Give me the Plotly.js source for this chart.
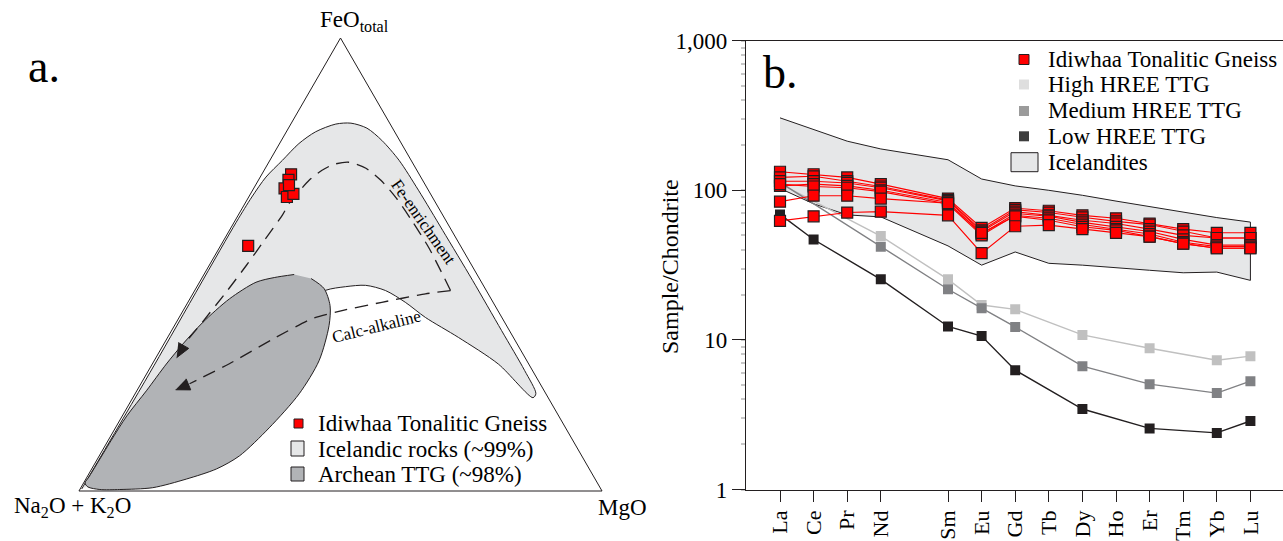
<!DOCTYPE html>
<html><head><meta charset="utf-8">
<script src="https://cdn.plot.ly/plotly-3.0.1.min.js"></script>
<style>html,body{margin:0;padding:0;background:#fff;} #chart{width:1283px;height:541px;}</style>
</head><body><div id="chart"></div>
<script>
// ---------------- Panel a : AFM ternary (wt% normalised) ----------------
const idiwhaaFeO = [69.9, 68.7, 66.8, 64.9, 65.6, 54.1, 67.5];
const idiwhaaAlk = [24.5, 25.6, 27.3, 27.8, 26.2, 40.6, 26.1];
const idiwhaaMgO = [5.6, 5.7, 5.9, 7.3, 8.2, 5.3, 6.4];

const icelandFeO = [0.44, 26.1, 59.3, 64.9, 69.3, 73.0, 76.7, 79.3, 81.0, 81.2, 80.1, 77.4, 73.0, 66.4, 57.5, 46.5, 35.4, 26.6, 21.5, 20.6, 28.0, 33.9, 38.3, 41.7, 44.3, 45.4, 45.1, 44.3, 40.9, 31.0, 15.5, 3.3];
const icelandAlk = [99.26, 73.4, 40.3, 34.5, 29.6, 24.6, 19.6, 15.1, 10.4, 7.4, 4.9, 3.4, 2.3, 1.9, 1.7, 1.5, 1.5, 1.5, 1.9, 2.9, 5.8, 10.5, 14.6, 16.8, 19.3, 22.5, 26.5, 30.7, 37.4, 51.9, 73.0, 92.4];
const icelandMgO = [0.3, 0.5, 0.4, 0.6, 1.1, 2.4, 3.7, 5.6, 8.6, 11.4, 15.0, 19.2, 24.7, 31.7, 40.8, 52.0, 63.1, 71.9, 76.6, 76.5, 66.2, 55.6, 47.1, 41.6, 36.5, 32.1, 28.4, 25.0, 21.6, 17.1, 11.5, 4.3];

const ttgFeO = [47.79, 47.12, 46.08, 42.41, 37.23, 32.46, 28.03, 22.12, 16.59, 11.06, 5.97, 3.10, 1.77, 0.89, 0.33, 0.33, 0.73, 2.65, 4.87, 7.74, 13.94, 21.46, 28.76, 36.50, 40.93, 44.69, 46.90];
const ttgAlk = [34.96, 39.10, 43.12, 50.03, 57.70, 63.90, 69.28, 76.05, 82.55, 88.37, 93.59, 96.54, 97.96, 97.84, 95.84, 92.03, 85.54, 78.10, 71.28, 65.46, 56.66, 47.17, 39.72, 33.94, 31.53, 30.80, 32.17];
const ttgMgO = [17.25, 13.78, 10.80, 7.56, 5.07, 3.64, 2.69, 1.83, 0.86, 0.57, 0.44, 0.36, 0.27, 1.27, 3.83, 7.64, 13.73, 19.25, 23.85, 26.80, 29.40, 31.37, 31.52, 29.56, 27.54, 24.51, 20.93];

const feTrendFeO = [44.25, 48.23, 53.76, 59.73, 64.82, 68.58, 71.24, 72.57, 72.12, 70.80, 68.58, 66.15, 63.50, 60.84, 55.31, 49.78, 44.25, 36.50, 32.52];
const feTrendAlk = [6.84, 6.55, 6.26, 6.52, 7.03, 7.99, 9.52, 12.10, 15.18, 18.13, 21.71, 24.82, 28.06, 30.72, 36.92, 43.12, 49.50, 58.70, 63.56];
const feTrendMgO = [48.91, 45.22, 39.98, 33.75, 28.15, 23.43, 19.24, 15.33, 12.70, 11.07, 9.71, 9.03, 8.44, 8.44, 7.77, 7.10, 6.25, 4.80, 3.92];

const caTrendFeO = [44.25, 43.52, 41.66, 39.82, 38.05, 33.92, 28.10, 23.67];
const caTrendAlk = [6.84, 12.00, 21.27, 29.80, 36.41, 45.38, 57.20, 67.02];
const caTrendMgO = [48.91, 44.48, 37.07, 30.38, 25.54, 20.70, 14.70, 9.31];

// arrowheads (tip, base corner, base corner) for each trend
const feArrowFeO = [29.42, 31.48, 32.77];
const feArrowAlk = [66.62, 63.28, 64.62];
const feArrowMgO = [3.96, 5.24, 2.61];
const caArrowFeO = [22.35, 22.32, 24.76];
const caArrowAlk = [70.35, 67.47, 67.13];
const caArrowMgO = [7.30, 10.21, 8.11];

// ---------------- Panel b : REE chondrite-normalised ----------------
const elements = ['La','Ce','Pr','Nd','Pm','Sm','Eu','Gd','Tb','Dy','Ho','Er','Tm','Yb','Lu'];
const tickElements = ['La','Ce','Pr','Nd','Sm','Eu','Gd','Tb','Dy','Ho','Er','Tm','Yb','Lu'];

const idiwhaaREE = [
  [133, 128, 122, 110, null, 88, 56, 76, 73, 68, 65, 60, 55, 52, 52],
  [122, 124, 115, 106, null, 86, 54, 74, 71, 66, 62, 59, 53, 48, 48],
  [115, 115, 112, 104, null, 85, 53, 72, 68, 63, 60, 55, 50, 48, 48],
  [107, 110, 107, 100, null, 83, 51, 70, 67, 61, 57, 53, 47, 43, 43],
  [110, 106, 104, 98, null, 81, 50, 68, 65, 59, 55, 51, 45, 42, 42],
  [84, 92, 92, 88, null, 82, 52, 67, 63, 57, 54, 49, 44, 41, 41],
  [62.5, 67, 71, 72, null, 68, 38, 57.5, 58.5, 55, 52, 49, 44, 41, 41]
];
const highHREE = [111, null, null, 49.4, null, 25.4, 17.1, 16.0, null, 10.8, null, 8.8, null, 7.32, 7.79];
const mediumHREE = [113, null, null, 41.9, null, 21.8, 16.3, 12.2, null, 6.67, null, 5.06, null, 4.41, 5.30];
const lowHREE = [69, 46.9, null, 25.4, null, 12.3, 10.6, 6.28, null, 3.45, null, 2.56, null, 2.39, 2.87];

const icelanditeUpper = [305, 254, 213, 189, 160, 119, 107, 100, 92.6, 84.7, 77.9, 71.5, 65.7, 61.3];
const icelanditeLower = [103, 81.2, 68.5, 66.4, 42.5, 31.6, 38.7, 32.5, 31.6, 30.5, 29.2, 28.1, 28.4, 25.0];

const yTickVals = [1, 10, 100, 1000];
const yTickText = ['1', '10', '100', '1,000'];

// ---------------- helpers for layout (paper coordinates) ----------------
const W = 1283, H = 541;
const X = px => px / W;
const Y = py => 1 - py / H;
const INK = '#231f20';
const SERIF = 'Liberation Serif';

const traces = [];
// ternary fields
traces.push({type:'scatterternary', subplot:'ternary', a:icelandFeO, b:icelandAlk, c:icelandMgO,
  mode:'lines', fill:'toself', fillcolor:'#e6e7e8', line:{color:INK, width:1, shape:'spline', smoothing:0.8},
  hoverinfo:'skip', showlegend:false});
traces.push({type:'scatterternary', subplot:'ternary', a:ttgFeO, b:ttgAlk, c:ttgMgO,
  mode:'lines', fill:'toself', fillcolor:'#b1b3b6', line:{color:INK, width:1, shape:'spline', smoothing:0.8},
  hoverinfo:'skip', showlegend:false});
traces.push({type:'scatterternary', subplot:'ternary', a:feTrendFeO, b:feTrendAlk, c:feTrendMgO,
  mode:'lines', line:{color:INK, width:1.3, dash:'13px,8px', shape:'spline', smoothing:0.7},
  hoverinfo:'skip', showlegend:false});
traces.push({type:'scatterternary', subplot:'ternary', a:caTrendFeO, b:caTrendAlk, c:caTrendMgO,
  mode:'lines', line:{color:INK, width:1.3, dash:'13px,8px', shape:'spline', smoothing:0.5},
  hoverinfo:'skip', showlegend:false});
[[feArrowFeO, feArrowAlk, feArrowMgO], [caArrowFeO, caArrowAlk, caArrowMgO]].forEach(([a, b, c]) =>
  traces.push({type:'scatterternary', subplot:'ternary', a:a, b:b, c:c, mode:'lines', fill:'toself',
    fillcolor:INK, line:{color:INK, width:1}, hoverinfo:'skip', showlegend:false}));
traces.push({type:'scatterternary', subplot:'ternary', a:idiwhaaFeO, b:idiwhaaAlk, c:idiwhaaMgO,
  mode:'markers', marker:{symbol:'square', size:11, color:'#ff0000', line:{color:INK, width:1.2}},
  hoverinfo:'skip', showlegend:false});

// REE panel
traces.push({type:'scatter', xaxis:'x', yaxis:'y',
  x: tickElements.concat(tickElements.slice().reverse()),
  y: icelanditeUpper.concat(icelanditeLower.slice().reverse()),
  mode:'lines', fill:'toself', fillcolor:'#e6e7e8', line:{color:INK, width:1},
  hoverinfo:'skip', showlegend:false});
const ttgStyles = [
  {data: highHREE, line:'#c0c0c0', marker:'#c0c0c0'},
  {data: mediumHREE, line:'#808184', marker:'#808184'},
  {data: lowHREE, line:INK, marker:INK}
];
ttgStyles.forEach(s => traces.push({type:'scatter', x:elements, y:s.data, connectgaps:true,
  mode:'lines+markers', line:{color:s.line, width:1.4}, marker:{symbol:'square', size:10, color:s.marker},
  hoverinfo:'skip', showlegend:false}));
idiwhaaREE.forEach(row => traces.push({type:'scatter', x:elements, y:row, connectgaps:true,
  mode:'lines+markers', line:{color:'#ff0000', width:1.1},
  marker:{symbol:'square', size:11, color:'#ff0000', line:{color:INK, width:1.2}},
  hoverinfo:'skip', showlegend:false}));

// ---------------- legends, labels ----------------
const shapes = [];
const annotations = [];
function box(cx, cy, w, h, fill, lw) {
  shapes.push({type:'rect', xref:'paper', yref:'paper', x0:X(cx - w/2), x1:X(cx + w/2), y0:Y(cy + h/2), y1:Y(cy - h/2),
    fillcolor:fill, line:{color:INK, width:lw}});
}
function label(text, px, py, size, opts) {
  annotations.push(Object.assign({xref:'paper', yref:'paper', x:X(px), y:Y(py), text:text, showarrow:false,
    xanchor:'center', yanchor:'middle', font:{family:SERIF, size:size, color:'#000'}}, opts || {}));
}
// panel a legend
const legA = [['Idiwhaa Tonalitic Gneiss', 423], ['Icelandic rocks (~99%)', 449], ['Archean TTG (~98%)', 474]];
box(298.5, 423.5, 9, 9, '#ff0000', 1);
box(297.5, 448.5, 13, 15, '#e6e7e8', 1);
box(297.5, 474, 13, 14, '#b1b3b6', 1);
legA.forEach(([t, y]) => label(t, 316, y, 23, {xanchor:'left'}));
// panel b legend
const legB = [['Idiwhaa Tonalitic Gneiss', 59.5], ['High HREE TTG', 84.5], ['Medium HREE TTG', 111], ['Low HREE TTG', 136.3], ['Icelandites', 162.2]];
box(1024, 59.5, 10, 10, '#ff0000', 1);
box(1024, 84.5, 10, 10, '#dedede', 0);
box(1024, 111, 10, 10, '#9b9b9b', 0);
box(1024, 136.3, 10, 10, '#3d3d3d', 0);
box(1024.5, 162.2, 27, 19, '#e6e7e8', 1);
legB.forEach(([t, y]) => label(t, 1046, y, 23, {xanchor:'left'}));

label('a.', 44, 66, 46);
label('b.', 780, 73, 46);
label('FeO<sub>total</sub>', 354, 21, 23);
label('Na<sub>2</sub>O + K<sub>2</sub>O', 72, 507, 23);
label('MgO', 622, 507, 23);
label('Fe-enrichment', 424, 222, 17, {textangle:55});
label('Calc-alkaline', 377, 326, 17, {textangle:-14});
label('Sample/Chondrite', 670, 266, 24, {textangle:-90});

const axisHidden = {showgrid:false, showticklabels:false, ticks:'', showline:true, linecolor:INK, linewidth:1,
  title:{text:''}, min:0};

const layout = {
  width: W, height: H,
  margin:{l:0, r:0, t:0, b:0},
  paper_bgcolor:'#fff', plot_bgcolor:'#fff',
  showlegend:false, hovermode:false,
  font:{family:SERIF, color:'#000'},
  ternary:{
    domain:{x:[X(78), X(603)], y:[Y(491), Y(38)]},
    sum:100, bgcolor:'#fff',
    aaxis:axisHidden, baxis:axisHidden, caxis:axisHidden
  },
  xaxis:{
    domain:[X(746), 1], type:'category', categoryorder:'array', categoryarray:elements,
    range:[-1.012, 14.97], tickmode:'array', tickvals:tickElements, ticktext:tickElements,
    tickangle:-90, ticks:'outside', ticklen:11, tickcolor:INK, tickwidth:1,
    showline:true, linecolor:INK, linewidth:1.2, mirror:true, showgrid:false, zeroline:false,
    tickfont:{family:SERIF, size:22, color:'#000'}, anchor:'y', fixedrange:true
  },
  yaxis:{
    domain:[Y(489.5), Y(40.7)], type:'log', range:[0, 3],
    tickmode:'array', tickvals:yTickVals, ticktext:yTickText,
    ticks:'outside', ticklen:13, tickcolor:INK, tickwidth:1,
    minor:{ticks:'outside', ticklen:4, tickcolor:'#c8c8c8', tickwidth:2, dtick:'D1', showgrid:false},
    showline:true, linecolor:INK, linewidth:1.2, showgrid:false, zeroline:false,
    tickfont:{family:SERIF, size:23, color:'#000'}, anchor:'x', fixedrange:true
  },
  shapes: shapes,
  annotations: annotations
};

Plotly.newPlot('chart', traces, layout, {staticPlot:true, displayModeBar:false});
</script>
</body></html>
